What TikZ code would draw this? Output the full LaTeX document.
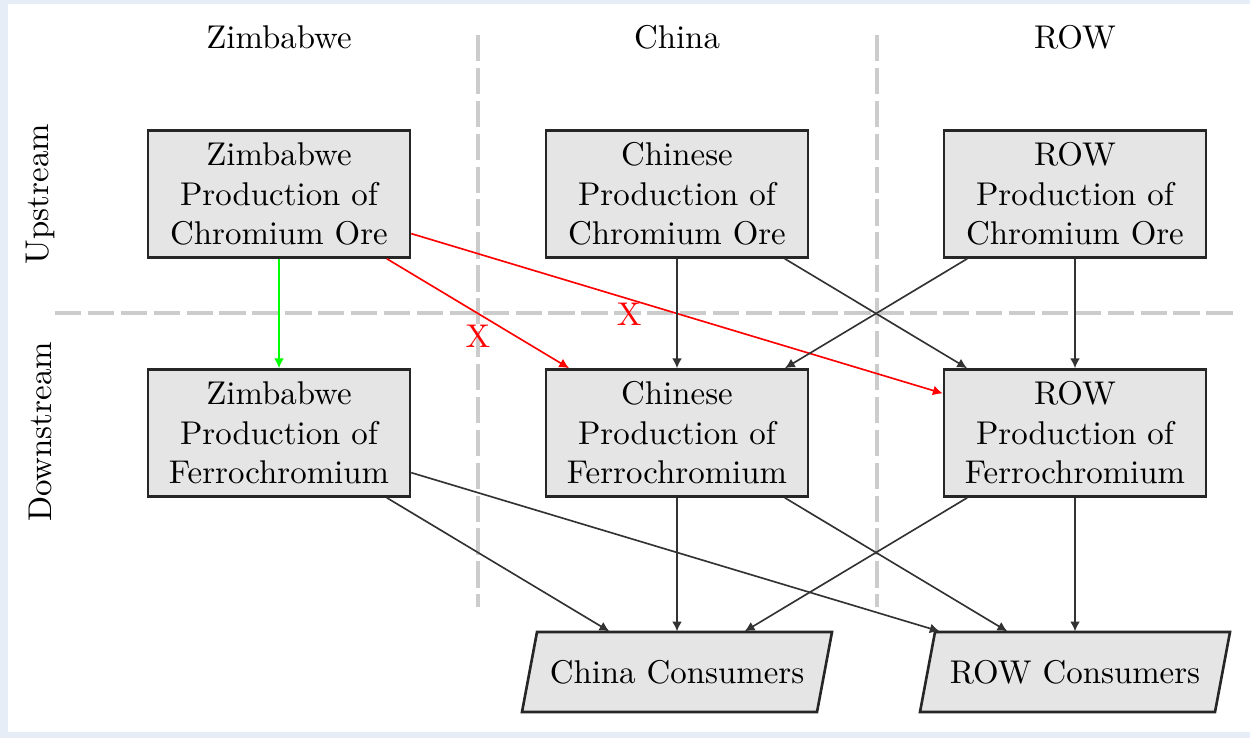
\documentclass[tikz,border=0pt]{standalone}
\usetikzlibrary{arrows.meta}
\definecolor{framebg}{RGB}{230,237,247}
\begin{document}
\begin{tikzpicture}[x=0.304pt,y=-0.304pt,
  box/.style={draw=black!85, thick, fill=gray!20, align=center,
    minimum width=79.6pt, minimum height=38.6pt, inner sep=2pt},
  cons/.style={rectangle, minimum width=89.7pt, minimum height=24.3pt},
  consshape/.style={draw=black!85, thick, fill=gray!20},
  flow/.style={-{Latex[length=3pt,width=3pt]}, black!80, line width=0.5pt},
  banned/.style={flow, red},
  allowed/.style={flow, green},
  gridline/.style={gray!40, line width=1pt, dash pattern=on 8pt off 2pt},
  xmark/.style={text=red, inner sep=1pt}]
\useasboundingbox (0,0) rectangle (1250,738);
\fill[framebg] (0,0) rectangle (1250,738);
\fill[white] (8,4) rectangle (1250,732);

% grid
\coordinate (h1) at (55,313);
\coordinate (h2) at (1235,313);
\coordinate (v1t) at (478,35);
\coordinate (v1b) at (478,607);
\coordinate (v2t) at (877,35);
\coordinate (v2b) at (877,607);
\draw[gridline] (h1) -- (h2);
\draw[gridline] (v1t) -- (v1b);
\draw[gridline] (v2t) -- (v2b);

% headers
\node (hz) at (279,37) {Zimbabwe};
\node (hc) at (677,37) {China};
\node (hr) at (1075,37) {ROW};
\node[rotate=90] (up) at (40,194) {Upstream};
\node[rotate=90] (down) at (40,432) {Downstream};

% boxes
\node[box] (zo) at (279,194) {Zimbabwe\\Production of\\Chromium Ore};
\node[box] (co) at (677,194) {Chinese\\Production of\\Chromium Ore};
\node[box] (ro) at (1075,194) {ROW\\Production of\\Chromium Ore};
\node[box] (zf) at (279,433) {Zimbabwe\\Production of\\Ferrochromium};
\node[box] (cf) at (677,433) {Chinese\\Production of\\Ferrochromium};
\node[box] (rf) at (1075,433) {ROW\\Production of\\Ferrochromium};

% consumer parallelograms
\draw[consshape] (522,712) -- (537,632) -- (832,632) -- (817,712) -- cycle;
\draw[consshape] (920,712) -- (935,632) -- (1230,632) -- (1215,712) -- cycle;
\node[cons] (cc) at (677,672) {China Consumers};
\node[cons] (rc) at (1075,672) {ROW Consumers};

% flows
\draw[allowed] (zo) -- (zf);
\draw[banned] (zo) -- node[pos=0.5, below, text=red] (x1) {X} (cf);
\draw[banned] (zo) -- node[pos=0.41, anchor=north, xmark] (x2) {X} (rf);
\draw[flow] (co) -- (cf);
\draw[flow] (co) -- (rf);
\draw[flow] (ro) -- (cf);
\draw[flow] (ro) -- (rf);
\draw[flow] (zf) -- (cc);
\draw[flow] (zf) -- (rc);
\draw[flow] (cf) -- (cc);
\draw[flow] (cf) -- (rc);
\draw[flow] (rf) -- (cc);
\draw[flow] (rf) -- (rc);
\end{tikzpicture}
\end{document}
